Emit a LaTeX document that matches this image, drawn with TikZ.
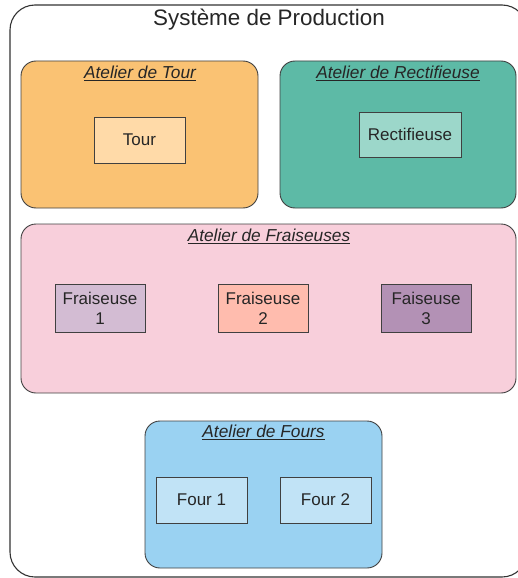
\documentclass[tikz,border=0pt]{standalone}
\usepackage{fontspec}
\setmainfont{Liberation Sans}
\begin{document}
\begin{tikzpicture}[x=1pt,y=-1pt,
  frame/.style={draw=black!80, line width=1.1pt, rounded corners=25pt},
  atelier/.style={draw=black!75, line width=0.9pt, rounded corners=15pt},
  machine/.style={draw=black!75, line width=0.9pt, inner sep=0pt, align=center,
    font=\fontsize{17}{20.5}\selectfont, text=black!85},
  titre/.style={font=\fontsize{17.3}{20}\selectfont\itshape, text=black!85, inner sep=0pt},
]
\definecolor{tourA}{HTML}{FAC273}
\definecolor{tourM}{HTML}{FFDAA8}
\definecolor{rectA}{HTML}{5DBAA6}
\definecolor{rectM}{HTML}{9CD7CA}
\definecolor{fraisA}{HTML}{F8CFDB}
\definecolor{frais1}{HTML}{D3BCD3}
\definecolor{frais2}{HTML}{FFBCAE}
\definecolor{frais3}{HTML}{B391B5}
\definecolor{fourA}{HTML}{9AD2F2}
\definecolor{fourM}{HTML}{C1E3F6}

\useasboundingbox (0,0) rectangle (518,578);

% outer system frame
\draw[frame] (10,5) rectangle (527,577);
\node[font=\fontsize{22.4}{25}\selectfont, text=black!85, inner sep=0pt] (sys) at (269,19.5) {Système de Production};

% turning shop
\draw[atelier, fill=tourA] (21,61) rectangle (258,208);
\node[titre] (tA) at (140,73) {\underline{Atelier de Tour}};
\node[machine, fill=tourM, minimum width=91pt, minimum height=46pt] (tour) at (139.5,140) {Tour};

% grinding shop
\draw[atelier, fill=rectA] (280,61) rectangle (516,208);
\node[titre] (rA) at (398,73) {\underline{Atelier de Rectifieuse}};
\node[machine, fill=rectM, minimum width=102pt, minimum height=45pt] (rect) at (410,134.5) {Rectifieuse};

% milling shop
\draw[atelier, fill=fraisA] (21,224) rectangle (516,393);
\node[titre] (fA) at (269,236) {\underline{Atelier de Fraiseuses}};
\node[machine, fill=frais1, minimum width=90pt, minimum height=48pt] (f1) at (100,308.5) {Fraiseuse\\1};
\node[machine, fill=frais2, minimum width=90pt, minimum height=48pt] (f2) at (263,308.5) {Fraiseuse\\2};
\node[machine, fill=frais3, minimum width=90pt, minimum height=48pt] (f3) at (426,308.5) {Faiseuse\\3};

% furnace shop
\draw[atelier, fill=fourA] (145,421) rectangle (382,568);
\node[titre] (oA) at (263.5,432) {\underline{Atelier de Fours}};
\node[machine, fill=fourM, minimum width=91pt, minimum height=46pt] (o1) at (201.5,500) {Four 1};
\node[machine, fill=fourM, minimum width=91pt, minimum height=46pt] (o2) at (325.5,500) {Four 2};
\end{tikzpicture}
\end{document}
